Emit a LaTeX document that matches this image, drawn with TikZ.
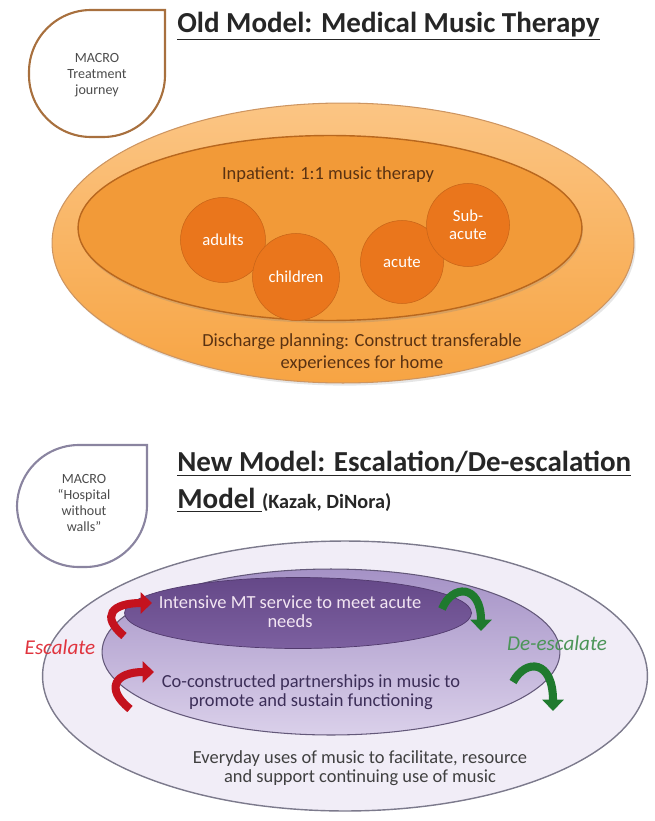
\documentclass[tikz,border=0pt]{standalone}
\usepackage{fontspec}
\setmainfont{Carlito}
\usetikzlibrary{shapes.geometric,arrows.meta,shadows}

\definecolor{dropbrown}{HTML}{A8703E}
\definecolor{droplilac}{HTML}{8A84A0}
\definecolor{orglight}{HTML}{FBC584}
\definecolor{orgmid}{HTML}{F7A443}
\definecolor{orginner}{HTML}{F29A38}
\definecolor{orgdeep}{HTML}{EA761C}
\definecolor{orgline}{HTML}{B8671E}
\definecolor{orgtext}{HTML}{5A3212}
\definecolor{lavlight}{HTML}{F1EDF7}
\definecolor{lavline}{HTML}{7C7A8C}
\definecolor{lavtop}{HTML}{A592C6}
\definecolor{lavbottom}{HTML}{DAD0EA}
\definecolor{plumtop}{HTML}{654888}
\definecolor{plumbottom}{HTML}{7C60A0}
\definecolor{plumtext}{HTML}{3C2E58}
\definecolor{escred}{HTML}{C4121E}
\definecolor{escredtext}{HTML}{E0343E}
\definecolor{desgreen}{HTML}{1F7A2E}

\begin{document}
\begin{tikzpicture}[x=0.02cm,y=0.02cm,
    title/.style={font=\fontsize{16.5}{20}\selectfont\bfseries,text=black!85,inner sep=0pt,anchor=west},
    macro/.style={font=\fontsize{8}{9}\selectfont,text=black!70,align=center},
    bubble/.style={circle,fill=orgdeep,draw=orgdeep!85!black,line width=.3pt,text=white,
      font=\fontsize{9.5}{10.5}\selectfont,inner sep=0pt,align=center},
    orgnote/.style={font=\fontsize{10.5}{12.5}\selectfont,text=orgtext,align=center},
    lavnote/.style={font=\fontsize{10.5}{11}\selectfont,align=center},
    escarrow/.style={draw=escred,line width=4.6pt,-{Triangle[length=6.5pt,width=12pt]}},
    desarrow/.style={draw=desgreen,line width=4.6pt,-{Triangle[length=6.5pt,width=12pt]}}]
\useasboundingbox (0,0) rectangle (654,-821);

% old model
\draw[dropbrown,line width=1.2pt] (165,-10) -- (165,-75) arc[start angle=0,end angle=-90,radius=62]
  -- (91,-137) arc[start angle=-90,end angle=-180,radius=62]
  -- (29,-72) arc[start angle=180,end angle=90,radius=62] -- cycle;
\node[macro] (oldmacro) at (97,-75) {MACRO\\Treatment\\journey};
\node[title] (oldtitle) at (177,-26) {\underline{Old Model: Medical Music Therapy}};

\node[ellipse,minimum width=11.64cm,minimum height=5.6cm,top color=orglight,bottom color=orgmid,
  draw=orgline!70,line width=.6pt,drop shadow={opacity=.2,shadow xshift=1pt,shadow yshift=-1.5pt}] (oldouter) at (343,-243) {};
\node[ellipse,minimum width=10.08cm,minimum height=3.7cm,fill=orginner,draw=orgline,line width=.8pt,
  drop shadow={opacity=.25,shadow xshift=.5pt,shadow yshift=-1.5pt}] (oldinner) at (330,-228) {};
\node[orgnote] (inpatient) at (328,-175) {Inpatient: 1:1 music therapy};
\node[bubble,minimum size=1.7cm] (adults) at (223,-240) {adults};
\node[bubble,minimum size=1.74cm] (children) at (296,-277) {children};
\node[bubble,minimum size=1.66cm] (acute) at (402,-262) {acute};
\node[bubble,minimum size=1.66cm] (subacute) at (468,-225) {Sub-\\acute};
\node[orgnote] (discharge) at (362,-353) {Discharge planning: Construct transferable\\experiences for home};

% new model
\draw[droplilac,line width=1.2pt] (147,-445) -- (147,-505) arc[start angle=0,end angle=-90,radius=62]
  -- (79,-567) arc[start angle=-90,end angle=-180,radius=62]
  -- (17,-507) arc[start angle=180,end angle=90,radius=62] -- cycle;
\node[macro] (newmacro) at (84,-503) {MACRO\\\textquotedblleft Hospital\\without\\walls\textquotedblright};
\node[title] (newtitle) at (177,-464) {\underline{New Model: Escalation/De-escalation}};
\node[title] (newsub) at (177,-500) {\underline{Model\ }\fontsize{11.5}{13}\selectfont(Kazak, DiNora)};

\node[ellipse,minimum width=12.1cm,minimum height=5.4cm,fill=lavlight,draw=lavline,line width=.8pt] (newouter) at (345,-676) {};
\node[ellipse,minimum width=9.16cm,minimum height=3.32cm,top color=lavtop,bottom color=lavbottom,
  draw=plumtext!80,line width=.6pt] (newmiddle) at (331,-652) {};
\node[ellipse,minimum width=6.94cm,minimum height=1.42cm,top color=plumtop,bottom color=plumbottom,
  draw=plumtop!80!black,line width=.4pt] (newinner) at (298,-613) {};
\node[lavnote,text=white!90!violet] (intensive) at (290,-612) {Intensive MT service to meet acute\\needs};
\node[lavnote,text=plumtext] (partner) at (311,-692) {Co-constructed partnerships in music to\\promote and sustain functioning};
\node[lavnote,text=black!75] (everyday) at (360,-768) {Everyday uses of music to facilitate, resource\\and support continuing use of music};
\node[font=\fontsize{12}{14}\selectfont\itshape,text=escredtext] (escalate) at (60,-647) {Escalate};
\node[font=\fontsize{12}{14}\selectfont\itshape,text=desgreen!80] (deescalate) at (557,-643) {De-escalate};

\coordinate (esc1a) at (124,-636);
\coordinate (esc1b) at (152,-603);
\coordinate (esc2a) at (130,-709);
\coordinate (esc2b) at (154,-672);
\coordinate (des1a) at (442,-609);
\coordinate (des1b) at (481,-631);
\coordinate (des2a) at (513,-682);
\coordinate (des2b) at (553,-711);
\draw[escarrow] (esc1a) .. controls (100,-616) and (112,-603) .. (esc1b);
\draw[escarrow] (esc2a) .. controls (104,-688) and (116,-672) .. (esc2b);
\draw[desarrow] (des1a) .. controls (452,-584) and (481,-584) .. (des1b);
\draw[desarrow] (des2a) .. controls (526,-658) and (553,-660) .. (des2b);
\end{tikzpicture}
\end{document}
